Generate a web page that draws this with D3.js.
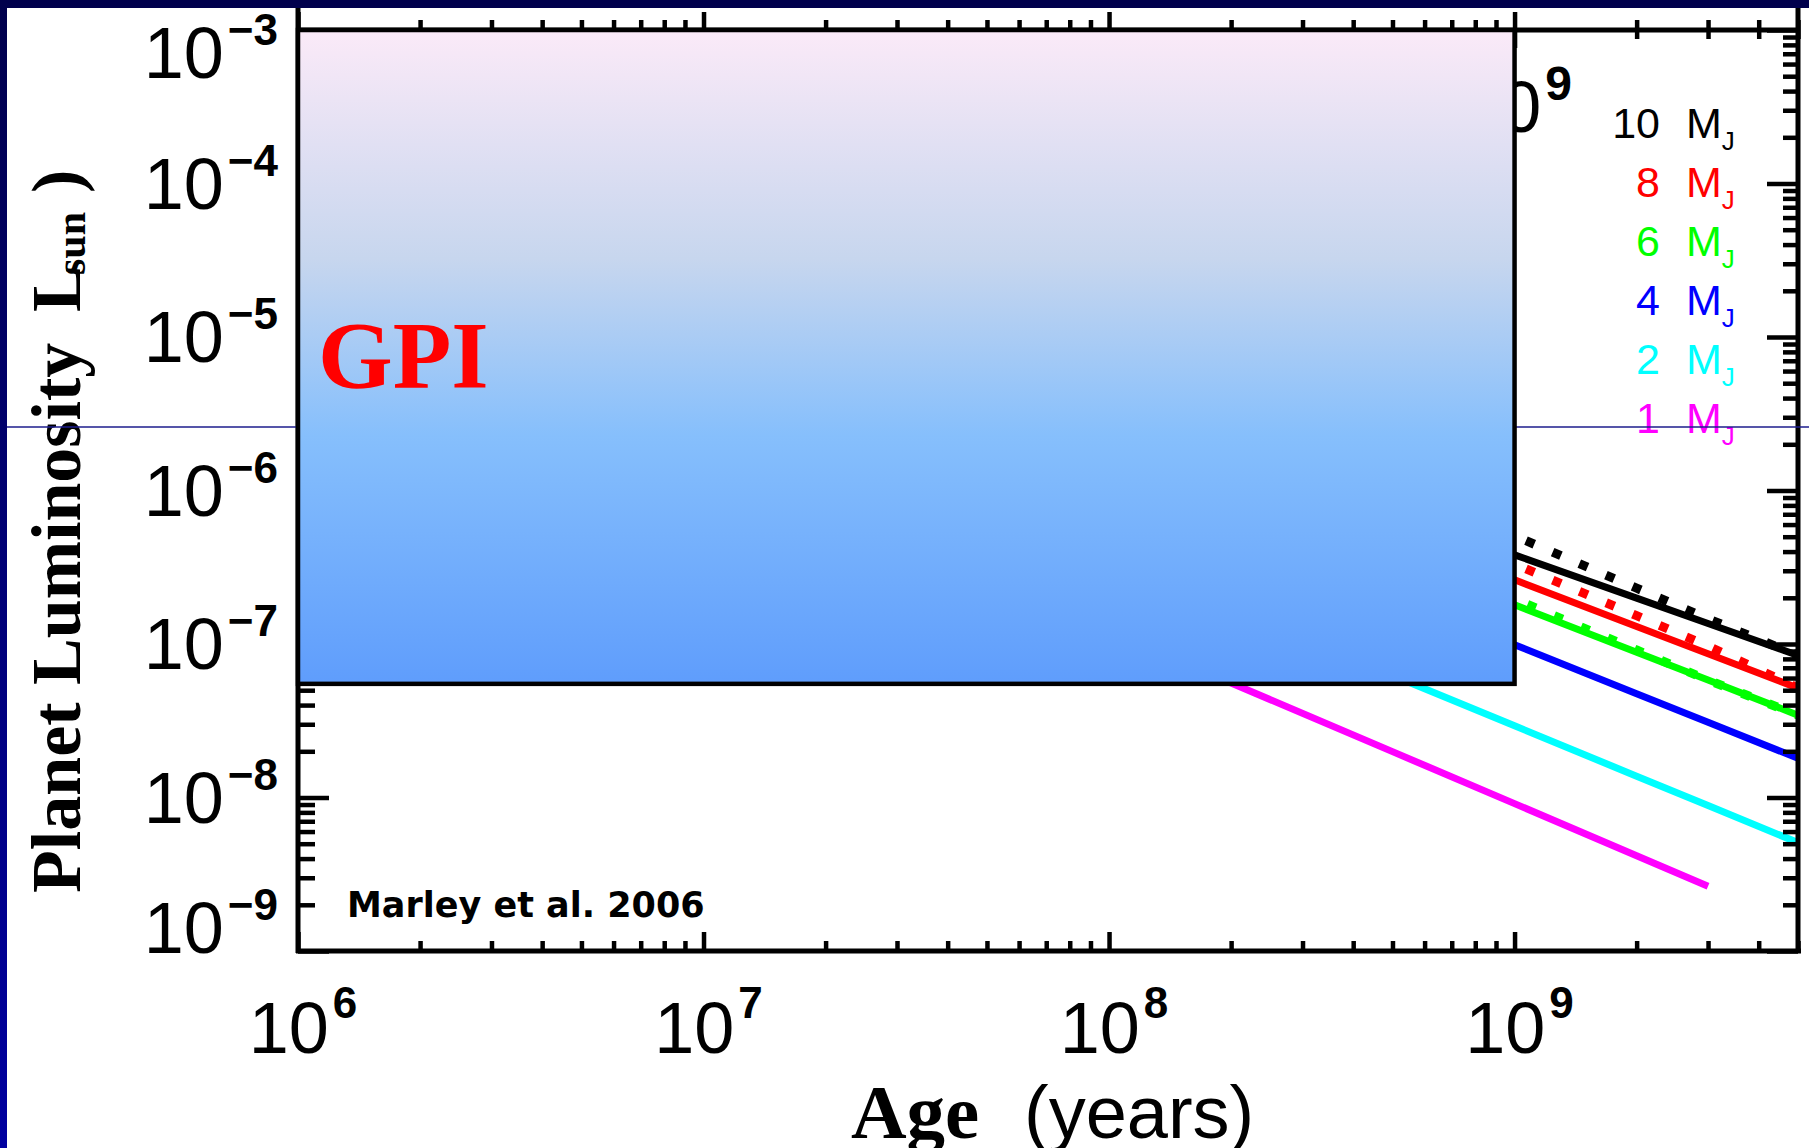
<!DOCTYPE html>
<html>
<head>
<meta charset="utf-8">
<script src="https://cdn.jsdelivr.net/npm/d3@7"></script>
<style>
  html, body { margin: 0; padding: 0; background: #fff; overflow: hidden; }
  svg { display: block; }
</style>
</head>
<body>
<div id="chart"></div>
<script>
const ages = [1e8, 2e8, 5e8, 1e9, 2e9, 3e9, 5e9];

// planet luminosity (L_sun), solid curves, one per mass
const lum10 = [null, null, 7.30e-7, 3.81e-7, 1.99e-7, 1.36e-7, 8.43e-8];
const lum8  = [null, null, 5.26e-7, 2.62e-7, 1.30e-7, 8.65e-8, 5.16e-8];
const lum6  = [null, null, 3.67e-7, 1.80e-7, 8.83e-8, 5.82e-8, 3.44e-8];
const lum4  = [null, null, 2.06e-7, 9.89e-8, 4.74e-8, 3.09e-8, 1.80e-8];
const lum2  = [null, 1.69e-7, 6.24e-8, 2.93e-8, 1.377e-8, 8.87e-9, 5.08e-9];
const lum1  = [1.222e-7, 5.57e-8, 1.99e-8, 9.12e-9, 4.17e-9, 2.64e-9, null];

// dotted curves (10, 8, 6 M_J)
const lumDot10 = [null, null, 1.1e-6, 5.07e-7, 2.31e-7, 1.46e-7, 8.43e-8];
const lumDot8  = [null, null, 7.2e-7, 3.32e-7, 1.53e-7, 9.68e-8, 5.16e-8];
const lumDot6  = [null, null, 4.0e-7, 1.96e-7, 9.14e-8, 5.82e-8, 3.44e-8];

const massLabels = ['10', '8', '6', '4', '2', '1'];
const massColors = ['#000000', '#ff0000', '#00ff00', '#0000ff', '#00ffff', '#ff00ff'];

const xMajor = [1e6, 1e7, 1e8, 1e9];
const xExp = ['6', '7', '8', '9'];
const yMajor = [1e-9, 1e-8, 1e-7, 1e-6, 1e-5, 1e-4, 1e-3];
const yExp = ['\u22129', '\u22128', '\u22127', '\u22126', '\u22125', '\u22124', '\u22123'];

// GPI region
const gpiAge = [1e6, 1e9];
const gpiLum = [5.5e-8, 1e-3];

const W = 1809, H = 1148;
const sans = 'Liberation Sans, Arial, Helvetica, sans-serif';
const serif = 'Liberation Serif, Times New Roman, serif';

const svg = d3.select('#chart').append('svg')
  .attr('width', W)
  .attr('height', H);

const defs = svg.append('defs');

const bgGrad = defs.append('linearGradient').attr('id', 'bgGrad')
  .attr('x1', 0).attr('y1', 0).attr('x2', 0).attr('y2', 1);
bgGrad.append('stop').attr('offset', '0%').attr('stop-color', '#00004c');
bgGrad.append('stop').attr('offset', '100%').attr('stop-color', '#0000a0');

const boxGrad = defs.append('linearGradient').attr('id', 'boxGrad')
  .attr('x1', 0).attr('y1', 0).attr('x2', 0).attr('y2', 1);
[['0%', '#fbeaf8'], ['35%', '#c7d6ee'], ['62%', '#86bffc'], ['100%', '#5f9dfc']]
  .forEach(s => boxGrad.append('stop').attr('offset', s[0]).attr('stop-color', s[1]));

svg.append('rect').attr('width', W).attr('height', H).attr('fill', 'url(#bgGrad)');
svg.append('rect').attr('x', 7).attr('y', 8).attr('width', W - 7).attr('height', H - 8).attr('fill', '#fff');

const x = d3.scaleLog().domain([1e6, 5e9]).range([298, 1798]);
const y = d3.scaleLog().domain([1e-9, 1e-3]).range([951, 30]);

defs.append('clipPath').attr('id', 'plotClip')
  .append('rect').attr('x', 298).attr('y', 8).attr('width', 1500).attr('height', 943);

// ---- curves
const line = d3.line()
  .defined(d => d[1] != null)
  .x(d => x(d[0]))
  .y(d => y(d[1]));

const solid = [lum10, lum8, lum6, lum4, lum2, lum1];
const dotted = [lumDot10, lumDot8, lumDot6];

const curves = svg.append('g').attr('clip-path', 'url(#plotClip)');

curves.selectAll('path.solid')
  .data(solid)
  .join('path')
  .attr('class', 'solid')
  .attr('d', vals => line(ages.map((a, i) => [a, vals[i]])))
  .attr('fill', 'none')
  .attr('stroke', (_, i) => massColors[i])
  .attr('stroke-width', 7);

curves.selectAll('path.dot')
  .data(dotted)
  .join('path')
  .attr('class', 'dot')
  .attr('d', vals => line(ages.map((a, i) => [a, vals[i]])))
  .attr('fill', 'none')
  .attr('stroke', (_, i) => massColors[i])
  .attr('stroke-width', 9)
  .attr('stroke-dasharray', '9 20');

// ---- axes (ticks through d3 axes, frame drawn as lines)
const isMajor = v => Math.abs(Math.log10(v) - Math.round(Math.log10(v))) < 1e-6;
const xMinor = x.ticks().filter(v => !isMajor(v));
const yMinor = y.ticks().filter(v => !isMajor(v));

function tickAxis(gen, scale, vals, size, tx, ty) {
  const g = svg.append('g')
    .attr('transform', `translate(${tx},${ty})`)
    .call(gen(scale).tickValues(vals).tickSize(size).tickSizeOuter(0).tickFormat(''));
  g.select('.domain').remove();
  g.selectAll('.tick line').attr('stroke', '#000').attr('stroke-width', 4.5);
  return g;
}

tickAxis(d3.axisTop, x, xMinor, 10, 0, 951);
tickAxis(d3.axisTop, x, xMajor, 19, 0, 951);
tickAxis(d3.axisBottom, x, xMinor, 9, 0, 30).selectAll('.tick line').attr('y1', -10);
tickAxis(d3.axisBottom, x, xMajor, 18, 0, 30).selectAll('.tick line').attr('y1', -18);
tickAxis(d3.axisRight, y, yMinor, 17, 298, 0);
tickAxis(d3.axisRight, y, yMajor, 31, 298, 0);
tickAxis(d3.axisLeft, y, yMinor, 15, 1798, 0);
tickAxis(d3.axisLeft, y, yMajor, 31, 1798, 0);

const frame = svg.append('g').attr('stroke', '#000').attr('stroke-width', 5);
frame.append('line').attr('x1', 296).attr('x2', 1801).attr('y1', 951).attr('y2', 951);
frame.append('line').attr('x1', 298).attr('x2', 1798).attr('y1', 30).attr('y2', 30);
frame.append('line').attr('x1', 298).attr('x2', 298).attr('y1', 8).attr('y2', 953);
frame.append('line').attr('x1', 1798).attr('x2', 1798).attr('y1', 8).attr('y2', 953);

// ---- tick labels
const yLab = svg.append('g').selectAll('text')
  .data(yMajor)
  .join('text')
  .attr('x', 278)
  .attr('y', d => Math.min(928, Math.max(53, y(d))) + 25)
  .attr('text-anchor', 'end')
  .style('font-family', sans)
  .style('font-size', '72px');
yLab.append('tspan').text('10');
yLab.append('tspan').attr('dx', 4).attr('dy', -33)
  .style('font-size', '44px').style('font-weight', 'bold')
  .text((_, i) => yExp[i]);

const xLab = svg.append('g').selectAll('text')
  .data(xMajor)
  .join('text')
  .attr('x', d => x(d) + 5)
  .attr('y', 1053)
  .attr('text-anchor', 'middle')
  .style('font-family', sans)
  .style('font-size', '72px');
xLab.append('tspan').text('10');
xLab.append('tspan').attr('dx', 4).attr('dy', -35)
  .style('font-size', '44px').style('font-weight', 'bold')
  .text((_, i) => xExp[i]);

// ---- legend
const leg = svg.append('g').selectAll('text')
  .data(massLabels)
  .join('text')
  .attr('y', (_, i) => 138 + i * 59)
  .attr('fill', (_, i) => massColors[i])
  .style('font-family', sans)
  .style('font-size', '43px');
leg.append('tspan').attr('x', 1660).attr('text-anchor', 'end').text(d => d);
leg.append('tspan').attr('x', 1686).attr('text-anchor', 'start').text('M');
leg.append('tspan').attr('dy', 12).style('font-size', '26px').text('J');

svg.append('text')
  .attr('x', 347).attr('y', 917)
  .style('font-family', 'DejaVu Sans, Verdana, sans-serif')
  .style('font-weight', 'bold')
  .style('font-size', '35px')
  .text('Marley et al. 2006');

// label partly hidden behind the GPI box
const hid = svg.append('text')
  .attr('x', 1572).attr('y', 132)
  .attr('text-anchor', 'end')
  .style('font-family', sans)
  .style('font-size', '72px');
hid.append('tspan').text('10');
hid.append('tspan')
  .attr('dx', 4).attr('dy', -32)
  .style('font-size', '48px').style('font-weight', 'bold')
  .text('9');

// ---- axis titles
const yt = svg.append('text')
  .attr('transform', 'translate(80,893) rotate(-90)')
  .style('font-family', serif)
  .style('font-weight', 'bold')
  .style('font-size', '70px');
yt.append('tspan').attr('x', 0).text('Planet Luminosity');
yt.append('tspan').attr('x', 581).text('L');
yt.append('tspan').attr('x', 618).attr('dy', 5).style('font-size', '42px').text('sun');
yt.append('tspan').attr('x', 700).attr('dy', -5).text(')');

svg.append('text')
  .attr('x', 851).attr('y', 1138)
  .style('font-family', serif)
  .style('font-weight', 'bold')
  .style('font-size', '77px')
  .text('Age');
svg.append('text')
  .attr('x', 1024).attr('y', 1138)
  .style('font-family', sans)
  .style('font-size', '74px')
  .text('(years)');

// thin slide guide line
svg.append('line')
  .attr('x1', 7).attr('x2', W).attr('y1', 427).attr('y2', 427)
  .attr('stroke', '#1c1c8c').attr('stroke-width', 1.5);

// ---- GPI box
svg.append('rect')
  .attr('x', x(gpiAge[0]))
  .attr('y', y(gpiLum[1]))
  .attr('width', x(gpiAge[1]) - x(gpiAge[0]))
  .attr('height', y(gpiLum[0]) - y(gpiLum[1]))
  .attr('fill', 'url(#boxGrad)')
  .attr('stroke', '#000')
  .attr('stroke-width', 4.5);

svg.append('text')
  .attr('x', 318).attr('y', 388)
  .attr('fill', '#ff0000')
  .style('font-family', serif)
  .style('font-weight', 'bold')
  .style('font-size', '96px')
  .text('GPI');
</script>
</body>
</html>
